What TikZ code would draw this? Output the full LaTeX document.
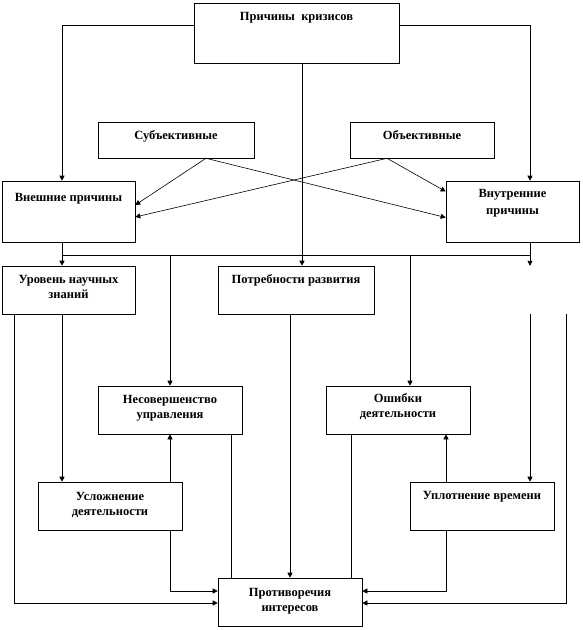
\documentclass[tikz,border=0pt]{standalone}
\usepackage{fontspec}
\setmainfont{Liberation Serif}
\usetikzlibrary{arrows.meta}

\tikzset{
  box/.style={draw, line width=0.6pt, fill=white, inner sep=0pt},
  ghostbox/.style={inner sep=0pt},
  txt/.style={anchor=north, inner sep=0pt, align=center, font=\bfseries\fontsize{12.5}{15}\selectfont},
  line/.style={line width=0.6pt},
  arr/.style={line width=0.6pt, -{Triangle[length=5pt,width=5pt]}}
}

\begin{document}
\begin{tikzpicture}[x=1pt,y=-1pt]

% Fix the page size
\useasboundingbox (0,0) rectangle (582,630);

% Draw the boxes
\node[box, minimum width=205pt, minimum height=60pt] (top) at (296.5,33) {};
\node[box, minimum width=156pt, minimum height=36pt] (subj) at (176,140) {};
\node[box, minimum width=144pt, minimum height=36pt] (obj) at (422,140) {};
\node[box, minimum width=133pt, minimum height=61pt] (ext) at (68.5,211.5) {};
\node[box, minimum width=133pt, minimum height=61pt] (int) at (512.5,211.5) {};
\node[box, minimum width=133pt, minimum height=48pt] (lvl) at (68.5,290) {};
\node[box, minimum width=156pt, minimum height=48pt] (need) at (296,290) {};
\node[ghostbox, minimum width=133pt, minimum height=48pt] (ghost) at (512.5,290) {};
\node[box, minimum width=144pt, minimum height=48pt] (imp) at (170,410) {};
\node[box, minimum width=144pt, minimum height=48pt] (err) at (398,410) {};
\node[box, minimum width=144pt, minimum height=48pt] (compl) at (110,506) {};
\node[box, minimum width=144pt, minimum height=48pt] (time) at (482,506) {};
\node[box, minimum width=144pt, minimum height=48pt] (contr) at (290,602) {};

% Put the texts near the top of each box
\node[txt] at ([yshift=-9pt]top.north) {Причины\ \ кризисов};
\node[txt] at ([yshift=-9pt]subj.north) {Субъективные};
\node[txt] at ([yshift=-9pt]obj.north) {Объективные};
\node[txt] at ([yshift=-12pt]ext.north) {Внешние причины};
\node[txt] at ([yshift=-8pt]int.north) {Внутренние\\[2pt]причины};
\node[txt] at ([yshift=-9pt]lvl.north) {Уровень научных\\знаний};
\node[txt] at ([yshift=-9pt]need.north) {Потребности развития};
\node[txt] at ([yshift=-9pt]imp.north) {Несовершенство\\управления};
\node[txt] at ([yshift=-8pt]err.north) {Ошибки\\деятельности};
\node[txt] at ([yshift=-10pt]compl.north) {Усложнение\\деятельности};
\node[txt] at ([yshift=-9pt]time.north) {Уплотнение времени};
\node[txt] at ([yshift=-10pt]contr.north) {Противоречия\\интересов};

% From the top box to both kinds of causes
\draw[arr] ([yshift=8pt]top.west) -| ([xshift=-6.5pt]ext.north);
\draw[arr] ([yshift=8pt]top.east) -| ([xshift=17.5pt]int.north);
\draw[arr] ([xshift=5.5pt]top.south) -- ([xshift=6pt]need.north);

% Crossing arrows
\draw[arr] ([xshift=30pt]subj.south) -- ([yshift=6.5pt]ext.east);
\draw[arr] ([xshift=30pt]subj.south) -- ([yshift=-6pt]int.west);
\draw[arr] ([xshift=-35pt]obj.south) -- ([yshift=20pt]int.west);
\draw[arr] ([xshift=-35pt]obj.south) -- ([yshift=-5.5pt]ext.east);

% The common line
\coordinate (busl) at (62,255);
\coordinate (busr) at (530,255);
\draw[line] ([xshift=-6.5pt]ext.south) -- (busl);
\draw[line] ([xshift=17.5pt]int.south) -- (busr);
\draw[line] (busl) -- (busr);
\draw[arr] (busl) -- ([xshift=-6.5pt]lvl.north);
\draw[arr] (busl -| imp.north) -- (imp.north);
\draw[arr] (busl -| 410,0) -- ([xshift=12pt]err.north);
\draw[arr] (busr) -- ([xshift=17.5pt]ghost.north);

% Left branch
\draw[arr] ([xshift=-54.5pt]lvl.south) |- ([yshift=-1pt]contr.west);
\draw[arr] ([xshift=-6.5pt]lvl.south) -- ([xshift=-48pt]compl.north);
\draw[arr] ([xshift=60pt]compl.north) -- (imp.south);
\draw[line] ([xshift=61pt]imp.south) -- ([xshift=-59pt]contr.north);
\draw[arr] ([xshift=60pt]compl.south) |- ([yshift=11pt]contr.west);

% Middle
\draw[arr] ([xshift=-6pt]need.south) -- (contr.north);

% Right branch
\draw[line] ([xshift=-47pt]err.south) -- ([xshift=61pt]contr.north);
\draw[arr] ([xshift=-36pt]time.north) -- ([xshift=48pt]err.south);
\draw[arr] ([xshift=-36pt]time.south) |- ([yshift=11pt]contr.east);
\draw[arr] ([xshift=17.5pt]ghost.south) -- ([xshift=48pt]time.north);
\draw[arr] ([xshift=53.5pt]ghost.south) |- ([yshift=-1pt]contr.east);

\end{tikzpicture}
\end{document}
